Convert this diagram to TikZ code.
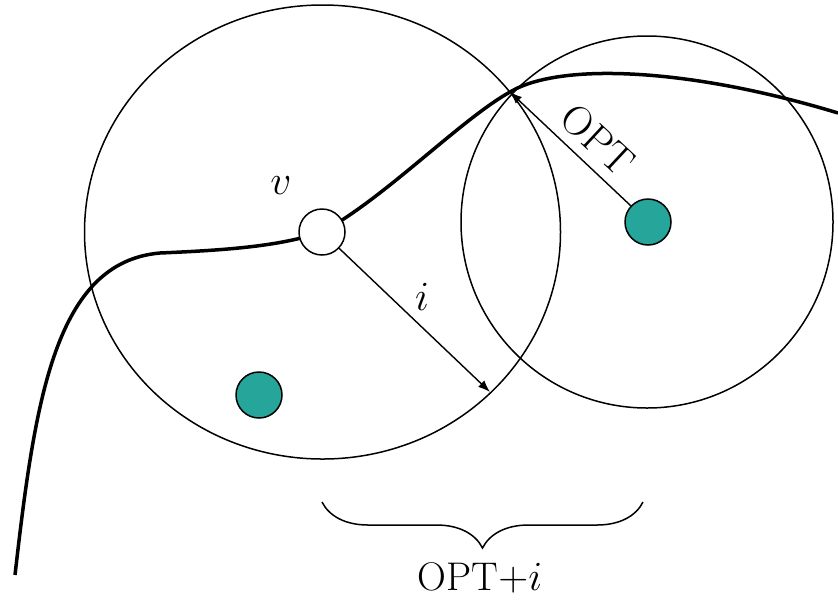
\documentclass[tikz,border=0pt]{standalone}
\usetikzlibrary{arrows.meta,decorations.pathreplacing}
\definecolor{tealdot}{RGB}{38,166,154}
\begin{document}
\begin{tikzpicture}[x=0.5pt,y=-0.5pt,
  ring/.style={line width=0.75pt},
  road/.style={line width=1.75pt},
  dot/.style={circle,draw,line width=0.75pt,fill=tealdot,minimum size=23pt,inner sep=0pt},
  vnode/.style={circle,draw,line width=0.75pt,fill=white,minimum size=23pt,inner sep=0pt},
  arr/.style={line width=0.7pt,-{Latex[length=6pt,width=4.5pt]}},
  lab/.style={font=\fontsize{20}{24}\selectfont, inner sep=0pt}]
\useasboundingbox (0,0) rectangle (838,600);
\coordinate (P) at (510,92);
\coordinate (s) at (15,575);
\coordinate (e) at (838,113);
\coordinate (iend) at (490,392);
\coordinate (bl) at (322,502);
\coordinate (br) at (643,502);
% circles
\draw[ring] (322.5,232) ellipse [x radius=238, y radius=227];
\draw[ring] (647,222) circle [radius=186];
% path
\draw[road] (s) .. controls (35,400) and (55,262) .. (160,253)
  .. controls (230,250) and (280,246) .. (322,232)
  .. controls (385,198) and (460,120) .. (P)
  .. controls (560,62) and (690,68) .. (e);
% nodes
\node[vnode] (v) at (322,232) {};
\node[dot] (d1) at (259,395) {};
\node[dot] (d2) at (648,222) {};
% arrows
\draw[arr] (v) -- (iend);
\draw[arr] (d2) -- (P);
% labels
\node[lab] (lv) at (281,186) {$v$};
\node[lab] (li) at (422,297) {$i$};
\node[lab, rotate=-43] (lopt) at (598,140) {$\mathrm{OPT}$};
% brace
\draw[ring, decorate, decoration={brace, amplitude=23pt}] (br) -- (bl);
\node[lab] (lsum) at (480,578) {OPT$+i$};
\end{tikzpicture}
\end{document}
